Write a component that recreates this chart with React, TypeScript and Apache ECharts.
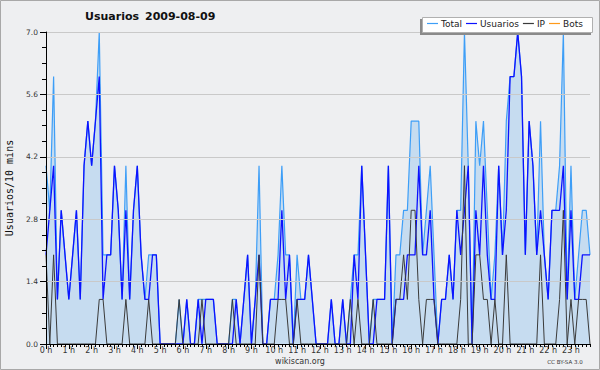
import React, { useEffect, useRef } from "react";
import * as echarts from "echarts";

const HOUR_LABELS = ["0 h","1 h","2 h","3 h","4 h","5 h","6 h","7 h","8 h","9 h","10 h","11 h","12 h","13 h","14 h","15 h","16 h","17 h","18 h","19 h","20 h","21 h","22 h","23 h"];
const Y_TICKS = [0, 1.4, 2.8, 4.2, 5.6, 7.0];
const SERIES_NAMES = ["Total", "Usuarios", "IP", "Bots"];

const TOTAL = [
  4,3,6,1,3,2, 1,2,3,1,4,5, 4,5,7,2,2,2, 4,3,1,4,1,3, 4,2,1,2,2,2, 0,0,0,0,0,1,
  0,1,0,0,1,1, 1,1,1,0,0,0, 0,1,1,0,1,2, 0,1,4,0,0,1, 1,2,4,2,2,0, 2,1,1,2,1,0,
  0,0,0,1,0,0, 1,0,1,2,2,4, 2,0,1,1,1,1, 4,0,2,2,3,3, 5,5,5,2,3,4, 2,0,1,1,2,1,
  3,3,7,4,0,5, 4,5,3,1,2,4, 2,5,6,6,7,6, 2,5,4,2,5,2, 1,3,3,4,7,1, 4,1,2,3,3,2
];
const USUARIOS = [
  2,3,4,1,3,2, 1,2,3,1,4,5, 4,5,6,1,2,2, 4,3,1,3,1,3, 4,2,1,1,2,2, 0,0,0,0,0,0,
  0,1,0,0,1,0, 1,1,1,0,0,0, 0,0,1,0,1,2, 0,1,2,0,0,1, 1,1,3,1,2,0, 1,1,1,2,1,0,
  0,0,0,1,0,0, 1,0,0,2,1,4, 2,0,0,1,1,1, 4,0,1,1,1,2, 2,2,4,2,2,3, 1,0,1,1,2,1,
  3,2,3,4,0,3, 2,4,2,1,1,4, 2,3,6,6,7,6, 2,5,4,2,3,2, 1,3,3,3,4,1, 3,1,1,2,2,2
];
const IP = [
  2,0,2,0,0,0, 0,0,0,0,0,0, 0,0,1,1,0,0, 0,0,0,1,0,0, 0,0,0,1,0,0, 0,0,0,0,0,1,
  0,0,0,0,0,1, 0,0,0,0,0,0, 0,1,0,0,0,0, 0,0,2,0,0,0, 0,1,1,1,0,0, 1,0,0,0,0,0,
  0,0,0,0,0,0, 0,0,1,0,1,0, 0,0,1,0,0,0, 0,0,1,1,2,1, 3,3,1,0,1,1, 1,0,0,0,0,0,
  0,1,4,0,0,2, 2,1,1,0,1,0, 0,2,0,0,0,0, 0,0,0,0,2,0, 0,0,0,1,3,0, 1,0,1,1,1,0
];
const BOTS = [
  0,0,0,0,0,0, 0,0,0,0,0,0, 0,0,0,0,0,0, 0,0,0,0,0,0, 0,0,0,0,0,0, 0,0,0,0,0,0,
  0,0,0,0,0,0, 0,0,0,0,0,0, 0,0,0,0,0,0, 0,0,0,0,0,0, 0,0,0,0,0,0, 0,0,0,0,0,0,
  0,0,0,0,0,0, 0,0,0,0,0,0, 0,0,0,0,0,0, 0,0,0,0,0,0, 0,0,0,0,0,0, 0,0,0,0,0,0,
  0,0,0,0,0,0, 0,0,0,0,0,0, 0,0,0,0,0,0, 0,0,0,0,0,0, 0,0,0,0,0,0, 0,0,0,0,0,0
];

const SLOTS = TOTAL.map((_, i) => `${Math.floor(i / 6)}:${(i % 6) * 10}`);

const FONT = "DejaVu Sans";

export default function App() {
  const ref = useRef<HTMLDivElement>(null);
  useEffect(() => {
    document.body.style.margin = "0";
    const chart = echarts.init(ref.current!, null, { renderer: "svg" });
    const lineSeries = (name: string, data: number[], color: string, width: number, z: number, extra: any = {}) => ({
      name, type: "line", data, symbol: "none", z,
      lineStyle: { color, width }, itemStyle: { color },
      emphasis: { disabled: true }, ...extra,
    });
    chart.setOption({
      animation: false,
      backgroundColor: "#eeeff1",
      textStyle: { fontFamily: FONT },
      grid: { left: 46, right: 10, top: 32, bottom: 26 },
      legend: {
        data: SERIES_NAMES,
        left: 427, top: 19, padding: 0,
        icon: "rect", itemWidth: 11, itemHeight: 1.2, itemGap: 4,
        textStyle: { fontSize: 9, color: "#222", fontFamily: FONT, padding: [0, 0, 0, -2] },
        z: 20,
      },
      xAxis: [
        {
          type: "category", data: SLOTS, boundaryGap: false, z: 10,
          axisLine: { lineStyle: { color: "#000", width: 1 } },
          axisTick: { interval: 5, length: 5, lineStyle: { color: "#000" } },
          axisLabel: {
            interval: 5, fontSize: 8, color: "#333", margin: 2, fontFamily: FONT,
            formatter: (_v: string, i: number) => HOUR_LABELS[i / 6] ?? "",
          },
          splitLine: { show: false },
        },
        {
          type: "category", data: SLOTS, boundaryGap: false, position: "bottom", z: 10,
          axisLine: { show: false },
          axisTick: { interval: 0, length: 3, lineStyle: { color: "#000" } },
          axisLabel: { show: false },
          splitLine: { show: false },
        },
      ],
      yAxis: {
        type: "value", min: Y_TICKS[0], max: Y_TICKS[Y_TICKS.length - 1], interval: Y_TICKS[1], z: 10,
        axisLine: { show: true, lineStyle: { color: "#000", width: 1 } },
        axisTick: { show: true, length: 6, lineStyle: { color: "#000" } },
        minorTick: { show: true, splitNumber: 4, length: 4, lineStyle: { color: "#000" } },
        axisLabel: { fontSize: 7.5, color: "#333", margin: 8, fontFamily: FONT, formatter: (v: number) => v.toFixed(1) },
        splitLine: { lineStyle: { color: "#c9c9c9", width: 1 } },
      },
      series: [
        lineSeries("Total", TOTAL, "#3d9ef7", 1.2, 2, { areaStyle: { color: "#c6dcf0", opacity: 1 } }),
        lineSeries("Usuarios", USUARIOS, "#0c12ff", 1.3, 3),
        lineSeries("IP", IP, "#3a3a3a", 1, 4),
        lineSeries("Bots", BOTS, "#ff9a1a", 1, 1),
      ],
      graphic: [
        { type: "rect", z: 0, silent: true, shape: { x: 0.5, y: 0.5, width: 599, height: 369 }, style: { fill: "none", stroke: "#a8a8a8", lineWidth: 1 } },
        { type: "rect", z: 15, silent: true, shape: { x: 420, y: 19, width: 171, height: 16 }, style: { fill: "#8a8a8a" } },
        { type: "rect", z: 16, silent: true, shape: { x: 422.5, y: 17.5, width: 170, height: 15 }, style: { fill: "#ffffff", stroke: "#b0b0b0", lineWidth: 1 } },
        { type: "text", z: 16, x: 85, y: 16.5, style: { text: "Usuarios", font: `bold 11px '${FONT}'`, fill: "#111", textVerticalAlign: "middle" } },
        { type: "text", z: 16, x: 145, y: 16.5, style: { text: "2009-08-09", font: `bold 11px '${FONT}'`, fill: "#111", textVerticalAlign: "middle" } },
        { type: "text", z: 16, x: 9, y: 188, rotation: Math.PI / 2, style: { text: "Usuarios/10 mins", font: "10px 'DejaVu Sans Mono'", fill: "#111", textAlign: "center", textVerticalAlign: "middle" } },
        { type: "text", z: 16, x: 300, y: 361, style: { text: "wikiscan.org", font: `8px '${FONT}'`, fill: "#333", textAlign: "center", textVerticalAlign: "middle" } },
        { type: "text", z: 16, x: 565, y: 362, style: { text: "CC BY-SA 3.0", font: `5.5px '${FONT}'`, fill: "#333", textAlign: "center", textVerticalAlign: "middle" } },
      ],
    });
    return () => chart.dispose();
  }, []);
  return <div ref={ref} style={{ position: "fixed", left: 0, top: 0, width: 600, height: 370 }} />;
}
